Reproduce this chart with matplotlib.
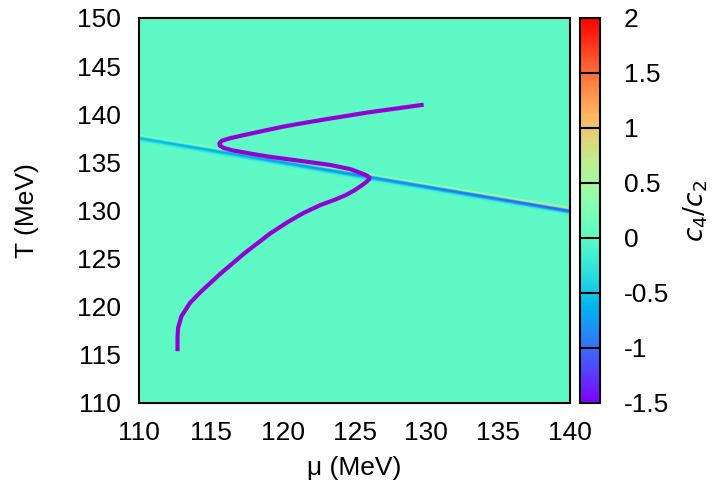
import numpy as np
import matplotlib
matplotlib.use("Agg")
import matplotlib.pyplot as plt
from matplotlib.colors import ListedColormap

plt.rcParams['font.family'] = ['Liberation Sans', 'DejaVu Sans']
plt.rcParams['axes.unicode_minus'] = False

# S-shaped curve (purple)
mu_curve = [112.68, 112.68, 112.72, 112.95, 113.55, 114.3, 115.64, 117.38, 119.12,
            120.3, 121.4, 122.6, 123.6, 124.4, 125.0, 125.5, 125.85, 126.02, 126.05,
            125.9, 125.61, 124.68, 123.3, 122.0, 120.5, 119.0, 117.6, 116.5,
            115.9, 115.62, 115.6, 115.76, 116.33, 117.2, 118.4, 120.0, 121.5,
            123.3, 126.0, 129.67]
T_curve = [115.6, 116.8, 117.8, 119.0, 120.4, 121.55, 123.4, 125.6, 127.6,
           128.75, 129.7, 130.55, 131.1, 131.6, 132.1, 132.6, 133.0, 133.25, 133.4,
           133.6, 133.79, 134.31, 134.73, 135.0, 135.3, 135.6, 135.95, 136.25,
           136.5, 136.75, 136.98, 137.25, 137.5, 137.8, 138.19, 138.7, 139.1,
           139.55, 140.2, 140.96]

# transition line in the c4/c2 map
mu_line = [110.0, 140.0]
T_line = [137.45, 129.9]
amp_mu = [110.0, 120.0, 130.0, 140.0]
amp_neg = [-0.6, -0.8, -1.0, -1.2]
amp_pos = [0.4, 0.5, 0.75, 1.25]
c_bg = 0.02

cb_ticks = [-1.5, -1, -0.5, 0, 0.5, 1, 1.5, 2]
cb_labels = ['-1.5', '-1', '-0.5', '0', '0.5', '1', '1.5', '2']

# gnuplot rgbformulae 33,13,10
x = np.linspace(0, 1, 256)
rgb = np.stack([np.abs(2 * x - 0.5),
                np.sin(np.pi * x),
                np.cos(np.pi * x / 2)], axis=1)
cmap = ListedColormap(np.clip(rgb, 0, 1))

# build map
mu = np.linspace(110, 140, 900)
T = np.linspace(110, 150, 1600)
M, TT = np.meshgrid(mu, T)
Tl = np.interp(M, mu_line, T_line)
d = TT - Tl
an = np.interp(M, amp_mu, amp_neg)
ap = np.interp(M, amp_mu, amp_pos)
Z = c_bg + ap * np.exp(-((d - 0.27) / 0.1) ** 2) + an * np.exp(-(d / 0.24) ** 2)

fig = plt.figure(figsize=(7.14, 4.86), dpi=100)
ax = fig.add_axes([0.1947, 0.1708, 0.6036, 0.7922])
cax = fig.add_axes([0.8123, 0.1708, 0.028, 0.7922])

im = ax.imshow(Z, origin='lower', extent=[110, 140, 110, 150], aspect='auto',
               cmap=cmap, vmin=-1.5, vmax=2, interpolation='bilinear')
ax.plot(mu_curve, T_curve, color='#9400d3', lw=3, solid_joinstyle='round')

ax.set_xlim(110, 140)
ax.set_ylim(110, 150)
ax.set_xticks(range(110, 141, 5))
ax.set_yticks(range(110, 151, 5))
ax.tick_params(length=0, labelsize=19, pad=13)
ax.set_xlabel('μ (MeV)', fontsize=19, labelpad=8)
ax.set_ylabel('T (MeV)', fontsize=19, labelpad=27)
for s in ax.spines.values():
    s.set_linewidth(1.5)

cb = fig.colorbar(im, cax=cax)
cb.set_ticks(cb_ticks)
cb.set_ticklabels(cb_labels)
cax.tick_params(length=0, labelsize=19, pad=17)
for t in cb_ticks[1:-1]:
    cax.axhline(t, color='black', lw=1.5)
cb.outline.set_linewidth(1.5)
cb.set_label('$c_4/c_2$', fontsize=19, labelpad=9)

fig.savefig('out.png', dpi=100)
